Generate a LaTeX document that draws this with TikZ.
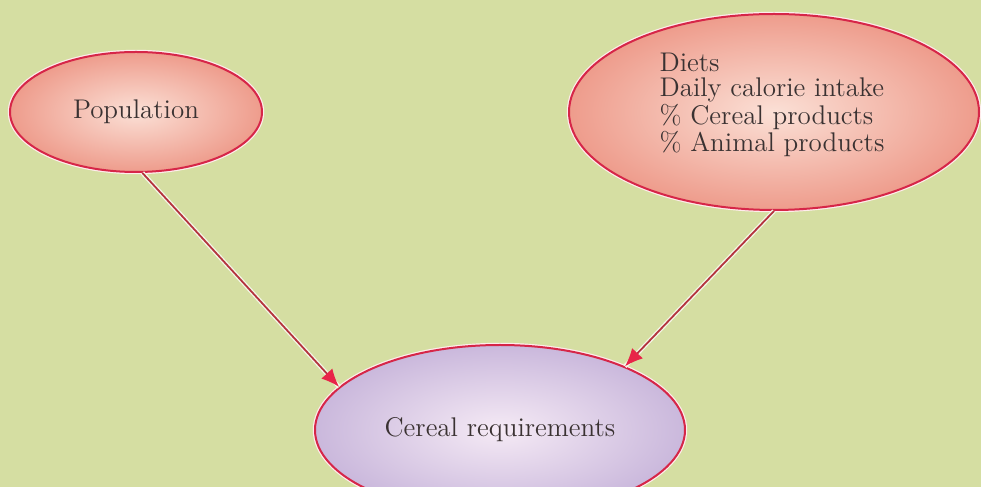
\documentclass[tikz,border=0pt]{standalone}
\usepackage{tikz}
\usetikzlibrary{arrows.meta,shapes.geometric,positioning}
\definecolor{PaperGreen}{RGB}{213,222,162}
\definecolor{SalmonEdge}{RGB}{238,156,140}
\definecolor{SalmonCore}{RGB}{251,224,214}
\definecolor{LilacEdge}{RGB}{202,184,220}
\definecolor{LilacCore}{RGB}{245,234,245}
\definecolor{RimRed}{RGB}{214,38,72}
\definecolor{ShaftRed}{RGB}{180,52,62}
\definecolor{TipRed}{RGB}{232,36,72}
\definecolor{InkGray}{RGB}{58,50,50}

\begin{document}
\begin{tikzpicture}[x=0.5pt,y=0.5pt,>={Latex[length=9pt,width=7.5pt,color=TipRed]},
    bubble/.style={ellipse,draw=RimRed,line width=1pt,inner sep=0pt,
      preaction={draw=white!70!pink,line width=2.2pt},
      shade,inner color=SalmonCore,outer color=SalmonEdge,
      text=InkGray,font=\fontsize{13.5}{12.5}\selectfont},
    link/.style={->,ShaftRed,line width=0.9pt,
      preaction={draw=white!75!PaperGreen,line width=2.2pt,-}}]
      \fill[PaperGreen] (0,0) rectangle (981,487);
      \clip (0,0) rectangle (981,487);
      \node[bubble,minimum width=126pt,minimum height=60pt] (pop) at (136,375) {Population};
      \node[bubble,minimum width=205pt,minimum height=98pt] (diets) at (774,375) {};
      \node[align=left,text=InkGray,font=\fontsize{13.5}{12.5}\selectfont] (dietstext)
        at (772,382) {Diets\\Daily calorie intake\\\% Cereal products\\\% Animal products};
      \node[bubble,inner color=LilacCore,outer color=LilacEdge,
        minimum width=185pt,minimum height=85pt] (cereal) at (500,57) {Cereal requirements};
      \draw[link] (pop.-84) -- (cereal.165);
      \draw[link] (diets.-90) -- (cereal.27);
    \end{tikzpicture}
\end{document}
